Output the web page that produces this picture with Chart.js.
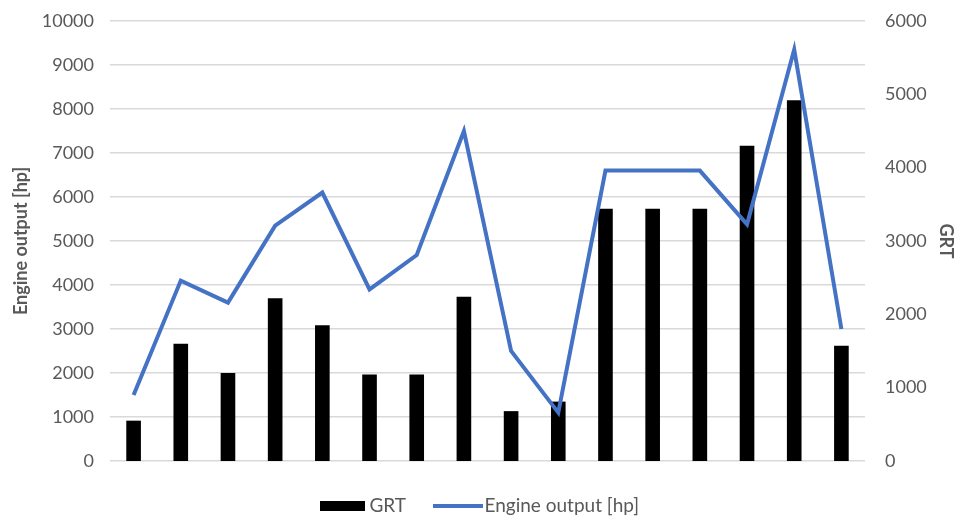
<!DOCTYPE html>
<html>
<head>
<meta charset="utf-8">
<script src="https://cdn.jsdelivr.net/npm/chart.js@4/dist/chart.umd.min.js"></script>
<style>
  html, body { margin: 0; padding: 0; background: #ffffff; }
  #wrap { width: 959px; height: 519px; }
</style>
</head>
<body>
<div id="wrap"><canvas id="c" width="959" height="519"></canvas></div>
<script>
// Ships in the comparison: gross tonnage (bars, right axis) and engine output (line, left axis)
const categories = ['', '', '', '', '', '', '', '', '', '', '', '', '', '', '', ''];
const grtValues = [550, 1600, 1200, 2220, 1850, 1180, 1180, 2240, 680, 810, 3440, 3440, 3440, 4300, 4920, 1570];
const engineOutput = [1500, 4100, 3600, 5350, 6100, 3900, 4680, 7500, 2500, 1100, 6600, 6600, 6600, 5380, 9350, 3000];
const leftTicks = [0, 1000, 2000, 3000, 4000, 5000, 6000, 7000, 8000, 9000, 10000];
const rightTicks = [0, 1000, 2000, 3000, 4000, 5000, 6000];

const FONT = 'Lato, "Liberation Sans", sans-serif';
const GREY = '#595959';
const BLUE = '#4472C4';
const plain = v => String(v);

// Legend swatches: a flat black block for the bars, a short thick stroke for the line
function swatch(w, h, color) {
  const cv = document.createElement('canvas');
  cv.width = w;
  cv.height = h;
  const g = cv.getContext('2d');
  g.fillStyle = color;
  g.fillRect(0, 0, w, h);
  return cv;
}
const barSwatch = swatch(45, 10, '#000000');
const lineSwatch = swatch(50, 4, BLUE);

new Chart(document.getElementById('c'), {
  data: {
    labels: categories,
    datasets: [
      {
        type: 'line',
        label: 'Engine output [hp]',
        data: engineOutput,
        yAxisID: 'yLeft',
        borderColor: BLUE,
        backgroundColor: BLUE,
        borderWidth: 4,
        pointRadius: 0,
        tension: 0,
        order: 0
      },
      {
        type: 'bar',
        label: 'GRT',
        data: grtValues,
        yAxisID: 'yRight',
        backgroundColor: '#000000',
        borderWidth: 0,
        barPercentage: 0.62,
        categoryPercentage: 0.5,
        order: 1
      }
    ]
  },
  options: {
    responsive: false,
    animation: false,
    layout: { padding: { top: 21, left: 6, right: 0, bottom: -6 } },
    plugins: {
      tooltip: { enabled: false },
      legend: {
        position: 'bottom',
        labels: {
          font: { family: FONT, size: 19 },
          color: GREY,
          usePointStyle: true,
          pointStyleWidth: 34,
          boxHeight: 10,
          padding: 35,
          generateLabels(chart) {
            const ds = chart.data.datasets;
            return [
              { text: ds[1].label, pointStyle: barSwatch, lineWidth: 0, datasetIndex: 1, fontColor: GREY },
              { text: ds[0].label, pointStyle: lineSwatch, lineWidth: 0, datasetIndex: 0, fontColor: GREY }
            ];
          }
        }
      }
    },
    scales: {
      x: {
        grid: { display: false },
        border: { display: false },
        ticks: { display: false },
        afterFit(scale) { scale.height = 0; }
      },
      yLeft: {
        position: 'left',
        min: 0,
        max: 10000,
        afterBuildTicks(scale) { scale.ticks = leftTicks.map(v => ({ value: v })); },
        afterFit(scale) { scale.width = 104; scale.paddingTop = 0; scale.paddingBottom = 0; },
        ticks: { color: GREY, font: { family: FONT, size: 18 }, padding: 16, callback: plain },
        grid: { color: '#d9d9d9', lineWidth: 1.5, drawTicks: false },
        border: { display: false },
        title: { display: true, text: 'Engine output [hp]', color: GREY,
                 font: { family: FONT, size: 18, weight: 'bold' }, padding: 4 }
      },
      yRight: {
        position: 'right',
        min: 0,
        max: 6000,
        afterBuildTicks(scale) { scale.ticks = rightTicks.map(v => ({ value: v })); },
        afterFit(scale) { scale.width = 94; scale.paddingTop = 0; scale.paddingBottom = 0; },
        ticks: { color: GREY, font: { family: FONT, size: 18 }, padding: 20, callback: plain },
        grid: { display: false, drawTicks: false },
        border: { display: false },
        title: { display: true, text: 'GRT', color: GREY,
                 font: { family: FONT, size: 18, weight: 'bold' }, padding: 2 }
      }
    }
  }
});
</script>
</body>
</html>
